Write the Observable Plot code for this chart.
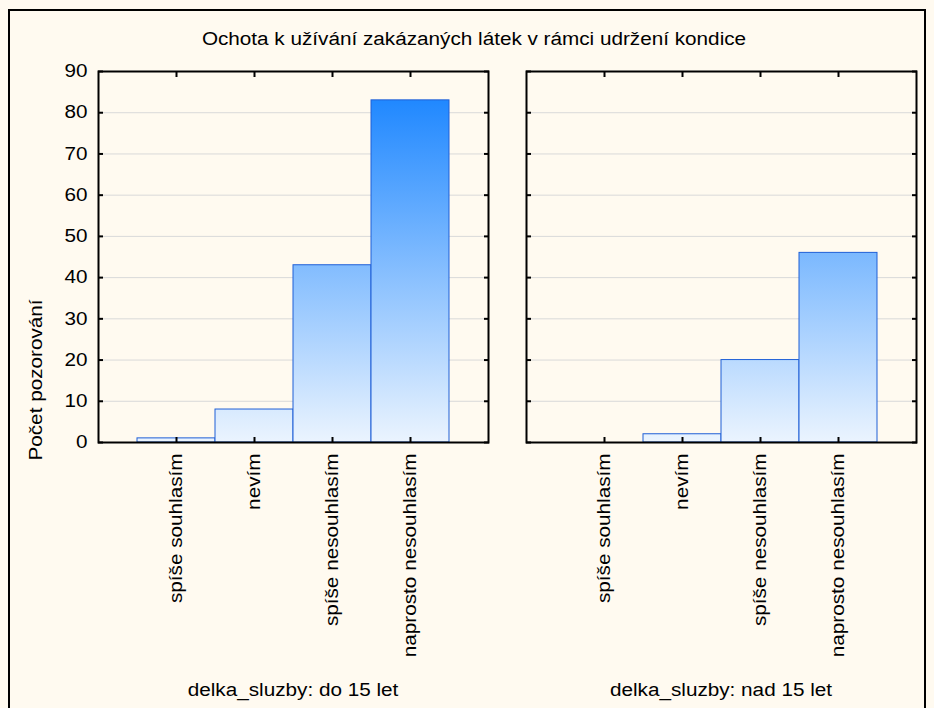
<!DOCTYPE html>
<html>
<head>
<meta charset="utf-8">
<script src="https://cdn.jsdelivr.net/npm/d3@7"></script>
<script src="https://cdn.jsdelivr.net/npm/@observablehq/plot@0.6"></script>
<style>
html, body { margin: 0; padding: 0; background: #fffaf0; overflow: hidden; }
#wrap { position: relative; width: 934px; height: 708px; background: #fffaf0; font-family: "Liberation Sans", Arial, sans-serif; color: #000; overflow: hidden; }
#border { position: absolute; left: 8px; top: 9px; width: 914px; height: 720px; border: 2px solid #000; }
.lbl { position: absolute; font-size: 18px; line-height: 18px; white-space: nowrap; text-align: center; }
#wrap svg { position: absolute; top: 0; }
</style>
</head>
<body>
<div id="wrap">
  <div id="border"></div>
  <div class="lbl" id="title" style="left:0px;width:948px;top:30px;transform:scaleX(1.15);">Ochota k užívání zakázaných látek v rámci udržení kondice</div>
  <div class="lbl" id="ylabel" style="left:36px;top:380px;transform:translate(-50%,-50%) rotate(-90deg) scaleX(1.15);">Počet pozorování</div>
  <div class="lbl" id="f1" style="left:93px;width:400px;top:681px;transform:scaleX(1.15);"></div>
  <div class="lbl" id="f2" style="left:521px;width:400px;top:681px;transform:scaleX(1.15);"></div>
</div>
<script>
// ---- data ----
const categories = ["spíše souhlasím", "nevím", "spíše nesouhlasím", "naprosto nesouhlasím"];
const facetLabels = ["delka_sluzby: do 15 let", "delka_sluzby: nad 15 let"];
const countsDo15 = [1, 8, 43, 83];
const countsNad15 = [0, 2, 20, 46];
const yTicks = [0, 10, 20, 30, 40, 50, 60, 70, 80, 90];

document.getElementById("f1").textContent = facetLabels[0];
document.getElementById("f2").textContent = facetLabels[1];

function panel(values, gid, showY, ml, mr) {
  const data = categories.map((c, i) => ({category: c, count: values[i]}));
  const svg = Plot.plot({
    width: ml + 390 + mr,
    height: 672,
    marginTop: 71,
    marginBottom: 230,
    marginLeft: ml,
    marginRight: mr,
    style: {background: "transparent", fontFamily: "'Liberation Sans', Arial, sans-serif", fontSize: "18px", color: "#000", overflow: "visible"},
    x: {type: "band", domain: categories, paddingInner: 0, paddingOuter: 0.5, label: null},
    y: {domain: [0, 90], label: null},
    marks: [
      Plot.gridY(yTicks, {stroke: "#d9d9d9", strokeOpacity: 1, strokeWidth: 1}),
      Plot.barY(data, {x: "category", y: "count", fill: `url(#${gid})`, stroke: "#1f5fd6", strokeWidth: 1}),
      Plot.axisY(yTicks, {anchor: "left", tickSize: -5, tickPadding: 16, strokeWidth: 2, tickFormat: showY ? (d => String(d)) : (() => null), label: null}),
      Plot.axisY(yTicks, {anchor: "right", tickSize: -5, strokeWidth: 2, tickFormat: () => null, label: null}),
      Plot.axisX({anchor: "bottom", tickSize: -5, tickPadding: 16, strokeWidth: 2, tickRotate: -90, label: null}),
      Plot.axisX({anchor: "top", tickSize: -5, strokeWidth: 2, tickFormat: () => null, label: null}),
      Plot.frame({stroke: "#000", strokeWidth: 2})
    ]
  });
  const y = svg.scale("y");
  const defs = d3.select(svg).insert("defs", ":first-child");
  const g = defs.append("linearGradient")
    .attr("id", gid)
    .attr("gradientUnits", "userSpaceOnUse")
    .attr("x1", 0).attr("x2", 0)
    .attr("y1", y.apply(0)).attr("y2", y.apply(90));
  g.append("stop").attr("offset", 0).attr("stop-color", "#ebf4fe");
  g.append("stop").attr("offset", 1).attr("stop-color", "#0f7fff");
  return svg;
}

const wrap = document.getElementById("wrap");
const left = panel(countsDo15, "gradL", true, 98, 4);
left.style.left = "0px";
wrap.appendChild(left);
const right = panel(countsNad15, "gradR", false, 10, 10);
right.style.left = "516px";
wrap.appendChild(right);

function stretch(svg, k) {
  svg.querySelectorAll("text").forEach(t => {
    const L = t.getComputedTextLength();
    if (L > 0) {
      t.setAttribute("textLength", (L * k).toFixed(1));
      t.setAttribute("lengthAdjust", "spacingAndGlyphs");
    }
  });
}
stretch(left, 1.15);
stretch(right, 1.15);
</script>
</body>
</html>
